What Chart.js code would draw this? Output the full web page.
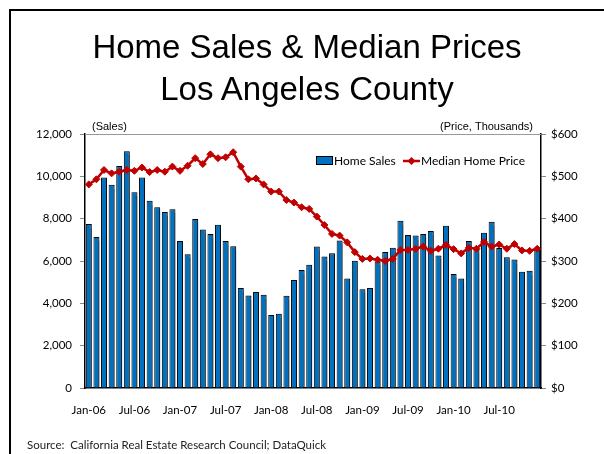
<!DOCTYPE html>
<html>
<head>
<meta charset="utf-8">
<script src="https://cdn.jsdelivr.net/npm/chart.js@4"></script>
<style>
  body { margin: 0; background: #fff; }
  #wrap { position: relative; width: 604px; height: 454px; overflow: hidden; }
  #frame { position: absolute; left: 9px; top: 9px; right: -5px; bottom: -5px;
           border-top: 2px solid #000; border-left: 2px solid #000; }
  #title { position: absolute; left: 10px; width: 594px; top: 26px; text-align: center;
           font: 33px/42px "Liberation Sans", Arial, sans-serif; color: #000; }
  #source { position: absolute; left: 27px; top: 438px;
            font: 11.5px Lato, sans-serif; color: #222; white-space: nowrap; }
  canvas { position: absolute; left: 0; top: 0; }
</style>
</head>
<body>
<div id="wrap">
  <div id="frame"></div>
  <canvas id="chart" width="604" height="454"></canvas>
  <div id="title">Home Sales &amp; Median Prices<br>Los Angeles County</div>
  <div id="source">Source:&nbsp; California Real Estate Research Council; DataQuick</div>
</div>
<script>
const months = [
  'Jan-06','Feb-06','Mar-06','Apr-06','May-06','Jun-06','Jul-06','Aug-06','Sep-06','Oct-06','Nov-06','Dec-06',
  'Jan-07','Feb-07','Mar-07','Apr-07','May-07','Jun-07','Jul-07','Aug-07','Sep-07','Oct-07','Nov-07','Dec-07',
  'Jan-08','Feb-08','Mar-08','Apr-08','May-08','Jun-08','Jul-08','Aug-08','Sep-08','Oct-08','Nov-08','Dec-08',
  'Jan-09','Feb-09','Mar-09','Apr-09','May-09','Jun-09','Jul-09','Aug-09','Sep-09','Oct-09','Nov-09','Dec-09',
  'Jan-10','Feb-10','Mar-10','Apr-10','May-10','Jun-10','Jul-10','Aug-10','Sep-10','Oct-10','Nov-10','Dec-10'
];

// home sales (count)
const homeSales = [
  7750, 7130, 9950, 9600, 10490, 11180, 9250, 9950, 8850, 8540, 8310, 8450,
  6950, 6320, 7980, 7490, 7280, 7710, 6950, 6700, 4730, 4370, 4530, 4400,
  3450, 3510, 4360, 5100, 5580, 5820, 6680, 6210, 6370, 6970, 5170, 6010,
  4670, 4730, 5980, 6430, 6630, 7900, 7230, 7200, 7270, 7420, 6260, 7670,
  5380, 5170, 6950, 6570, 7330, 7850, 6620, 6180, 6070, 5490, 5540, 6590
];

// median price, thousands
const medianPrice = [
  481, 493, 515, 507, 511, 515, 513, 521, 510, 515, 511, 523,
  513, 525, 543, 529, 552, 543, 545, 557, 523, 493, 495, 481,
  464, 464, 444, 438, 427, 423, 405, 385, 364, 360, 344, 321,
  305, 306, 303, 300, 305, 326, 326, 329, 334, 324, 329, 338,
  328, 318, 331, 329, 345, 334, 339, 329, 340, 325, 324, 329
];

const BLUE = '#0070C0';
const RED = '#C00000';
const tickFont = { family: 'Lato', size: 11.5 };

// gray drop shadow on the bars
const barShadow = {
  id: 'barShadow',
  beforeDatasetDraw(chart, args) {
    if (args.index !== 1) return;
    const c = chart.ctx;
    c.save();
    c.shadowColor = 'rgba(0,0,0,0.45)';
    c.shadowOffsetX = 1.5;
    c.shadowOffsetY = 0.5;
    c.shadowBlur = 1;
  },
  afterDatasetDraw(chart, args) {
    if (args.index === 1) chart.ctx.restore();
  }
};

// top border line, axis captions and legend
const decor = {
  id: 'decor',
  afterDraw(chart) {
    const c = chart.ctx;
    const a = chart.chartArea;
    c.save();
    c.strokeStyle = '#999';
    c.lineWidth = 1;
    c.beginPath();
    c.moveTo(a.left, a.top + 0.5);
    c.lineTo(a.right, a.top + 0.5);
    c.stroke();

    c.fillStyle = '#000';
    c.font = '11px "Liberation Sans", Arial, sans-serif';
    c.textBaseline = 'middle';
    c.textAlign = 'left';
    c.fillText('(Sales)', 92, 127);
    c.textAlign = 'right';
    c.fillText('(Price, Thousands)', 533, 127);

    // legend
    c.font = '12px Lato, sans-serif';
    c.textAlign = 'left';
    c.fillStyle = BLUE;
    c.fillRect(316.5, 156.5, 16, 8);
    c.strokeStyle = '#000';
    c.strokeRect(316.5, 156.5, 16, 8);
    c.fillStyle = '#000';
    c.fillText('Home Sales', 334, 161);

    c.strokeStyle = RED;
    c.lineWidth = 2.5;
    c.beginPath();
    c.moveTo(403, 161);
    c.lineTo(420, 161);
    c.stroke();
    c.fillStyle = RED;
    c.beginPath();
    c.moveTo(411.5, 157);
    c.lineTo(415.5, 161);
    c.lineTo(411.5, 165);
    c.lineTo(407.5, 161);
    c.closePath();
    c.fill();
    c.fillStyle = '#000';
    c.fillText('Median Home Price', 421, 161);
    c.restore();
  }
};

const ctx = document.getElementById('chart').getContext('2d');

const chart = new Chart(ctx, {
  data: {
    labels: months,
    datasets: [
      {
        type: 'line',
        label: 'Median Home Price',
        data: medianPrice,
        yAxisID: 'y1',
        borderColor: RED,
        backgroundColor: RED,
        borderWidth: 2.5,
        tension: 0,
        pointStyle: 'rectRot',
        pointRadius: 3.5,
        pointBorderWidth: 1,
        order: 0
      },
      {
        type: 'bar',
        label: 'Home Sales',
        data: homeSales,
        yAxisID: 'y',
        backgroundColor: BLUE,
        borderColor: '#000',
        borderWidth: 1,
        barPercentage: 0.78,
        categoryPercentage: 1,
        order: 1
      }
    ]
  },
  options: {
    responsive: false,
    animation: false,
    layout: { padding: { top: 134, left: 0, right: 0, bottom: 0 } },
    plugins: {
      legend: { display: false },
      title: { display: false },
      tooltip: { enabled: false }
    },
    scales: {
      x: {
        offset: true,
        afterFit: s => { s.height = 66; },
        grid: { display: true, drawOnChartArea: false, drawTicks: false },
        border: { color: '#000', width: 1.5 },
        ticks: {
          autoSkip: false,
          maxRotation: 0,
          padding: 15,
          color: '#000',
          font: tickFont,
          callback: function (v, i) { return i % 6 === 0 ? months[i] : ''; }
        }
      },
      y: {
        position: 'left',
        min: 0,
        max: 12000,
        afterFit: s => { s.width = 85; },
        grid: { drawOnChartArea: false, tickLength: 5, color: '#888' },
        border: { color: '#000', width: 1.5 },
        ticks: {
          stepSize: 2000,
          padding: 8,
          color: '#000',
          font: tickFont,
          callback: v => v.toLocaleString('en-US')
        }
      },
      y1: {
        position: 'right',
        min: 0,
        max: 600,
        afterFit: s => { s.width = 63; },
        grid: { drawOnChartArea: false, tickLength: 5, color: '#888' },
        border: { color: '#000', width: 1.5 },
        ticks: {
          stepSize: 100,
          padding: 5,
          color: '#000',
          font: tickFont,
          callback: v => '$' + v
        }
      }
    }
  },
  plugins: [barShadow, decor]
});
</script>
</body>
</html>
